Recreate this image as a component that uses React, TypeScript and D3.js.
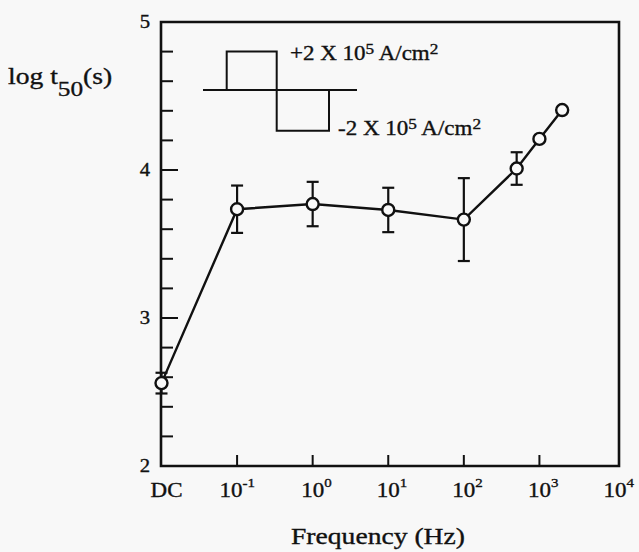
import * as d3 from "d3";
import { useEffect, useRef } from "react";

// frequency of the applied pulse (0 = DC) and measured log t50
const freqHz = [0, 0.1, 1, 10, 100, 500, 1000, 2000];
const logT50 = [2.56, 3.735, 3.77, 3.73, 3.665, 4.01, 4.21, 4.405];
const errBar = [0.07, 0.16, 0.15, 0.15, 0.28, 0.11, 0, 0];

const xTickHz = [0.01, 0.1, 1, 10, 100, 1000, 10000];
const xTickExp = ["DC", "-1", "0", "1", "2", "3", "4"];
const yTicks = [2, 3, 4, 5];

// inset waveform, in log t units: baseline, +pulse, -pulse
const waveLevels = [4.54, 4.8, 4.265];

const DC_AT = 0.01;
const STRETCH = 1.15;
const FONT = "'Liberation Serif', 'Times New Roman', serif";
const INK = "#111";

const X0 = 161,
  X1 = 619,
  Y0 = 22,
  Y1 = 466;

type Run = { t: string; size: number; dy: number };

const App = () => {
  const ref = useRef<SVGGElement>(null);

  useEffect(() => {
    const svg = d3.select(ref.current);
    svg.selectAll("*").remove();

    const x = d3.scaleLog().domain([0.01, 10000]).range([161.5, 615]);
    const y = d3.scaleLinear().domain([2, 5]).range([Y1, Y0]);
    const xOf = (f: number) => x(f === 0 ? DC_AT : f);

    const addText = (px: number, py: number, anchor: string, runs: Run[]) => {
      const t = svg
        .append("text")
        .attr("transform", `translate(${px},${py}) scale(${STRETCH},1)`)
        .attr("text-anchor", anchor)
        .attr("font-family", FONT)
        .attr("fill", INK)
        .attr("stroke", INK)
        .attr("stroke-width", 0.35);
      let prev = 0;
      runs.forEach((r) => {
        t.append("tspan")
          .attr("font-size", r.size)
          .attr("dy", r.dy - prev)
          .text(r.t);
        prev = r.dy;
      });
    };

    // frame as a filled ring (outer box minus inner box)
    const w = 2.6 / 2;
    svg
      .append("path")
      .attr(
        "d",
        `M${X0 - w},${Y0 - w}H${X1 + w}V${Y1 + w}H${X0 - w}Z` +
          `M${X0 + w},${Y0 + w}V${Y1 - w}H${X1 - w}V${Y0 + w}Z`
      )
      .attr("fill", INK)
      .attr("fill-rule", "evenodd");

    // y ticks
    d3.range(2, 5.001, 0.2).forEach((v) => {
      const major = Math.abs(v - Math.round(v)) < 1e-6;
      svg
        .append("line")
        .attr("x1", X0)
        .attr("x2", X0 + (major ? 17 : 12))
        .attr("y1", y(v))
        .attr("y2", y(v))
        .attr("stroke", INK)
        .attr("stroke-width", 2);
    });
    yTicks.forEach((v) => {
      addText(150, y(v) + 6, "end", [{ t: String(v), size: 18, dy: 0 }]);
    });

    // x ticks
    xTickHz.forEach((f, i) => {
      const px = x(f);
      if (i > 0 && i < xTickHz.length - 1) {
        svg
          .append("line")
          .attr("x1", px)
          .attr("x2", px)
          .attr("y1", Y1)
          .attr("y2", Y1 - 11)
          .attr("stroke", INK)
          .attr("stroke-width", 2);
      }
      const e = xTickExp[i];
      if (e === "DC") {
        addText(px + 5, 497, "middle", [{ t: "DC", size: 20, dy: 0 }]);
      } else {
        addText(px - 11.5 - (e.length > 1 ? 6 : 0), 497, "start", [
          { t: "10", size: 20, dy: 0 },
          { t: e, size: 13, dy: -10 },
        ]);
      }
    });

    // axis titles
    addText(378, 544, "middle", [{ t: "Frequency (Hz)", size: 24, dy: 0 }]);
    addText(8, 84, "start", [
      { t: "log t", size: 24, dy: 0 },
      { t: "50", size: 22, dy: 12 },
      { t: "(s)", size: 24, dy: 0 },
    ]);

    // inset waveform
    const [base, hi, lo] = waveLevels.map((v) => y(v));
    svg
      .append("line")
      .attr("x1", 203)
      .attr("x2", 357)
      .attr("y1", base)
      .attr("y2", base)
      .attr("stroke", INK)
      .attr("stroke-width", 2);
    svg
      .append("path")
      .attr("d", `M226.7,${base}V${hi}H276.7V${lo}H329V${base}`)
      .attr("fill", "none")
      .attr("stroke", INK)
      .attr("stroke-width", 2);
    addText(290, 60, "start", [
      { t: "+2 X 10", size: 20, dy: 0 },
      { t: "5", size: 15, dy: -6 },
      { t: " A/cm", size: 20, dy: 0 },
      { t: "2", size: 15, dy: -6 },
    ]);
    addText(338, 135, "start", [
      { t: "-2 X 10", size: 20, dy: 0 },
      { t: "5", size: 15, dy: -6 },
      { t: " A/cm", size: 20, dy: 0 },
      { t: "2", size: 15, dy: -6 },
    ]);

    // data line
    const pts: [number, number][] = freqHz.map((f, i) => [xOf(f), y(logT50[i])]);
    svg
      .append("path")
      .attr("d", d3.line()(pts))
      .attr("fill", "none")
      .attr("stroke", INK)
      .attr("stroke-width", 2.4);

    // error bars
    freqHz.forEach((f, i) => {
      const e = errBar[i];
      if (!e) return;
      const px = xOf(f);
      const ya = y(logT50[i] - e),
        yb = y(logT50[i] + e);
      const g = svg.append("g").attr("stroke", INK).attr("stroke-width", 2.2);
      g.append("line").attr("x1", px).attr("x2", px).attr("y1", ya).attr("y2", yb);
      g.append("line").attr("x1", px - 6).attr("x2", px + 6).attr("y1", ya).attr("y2", ya);
      g.append("line").attr("x1", px - 6).attr("x2", px + 6).attr("y1", yb).attr("y2", yb);
    });

    // markers
    svg
      .selectAll("circle.pt")
      .data(pts)
      .enter()
      .append("circle")
      .attr("class", "pt")
      .attr("cx", (d) => d[0])
      .attr("cy", (d) => d[1])
      .attr("r", 6)
      .attr("fill", "#fafafa")
      .attr("stroke", INK)
      .attr("stroke-width", 2.4);
  }, []);

  return (
    <svg
      width={639}
      height={552}
      style={{ position: "absolute", left: 0, top: 0, background: "#f8f8f8" }}
    >
      <g ref={ref} />
    </svg>
  );
};

export default App;
